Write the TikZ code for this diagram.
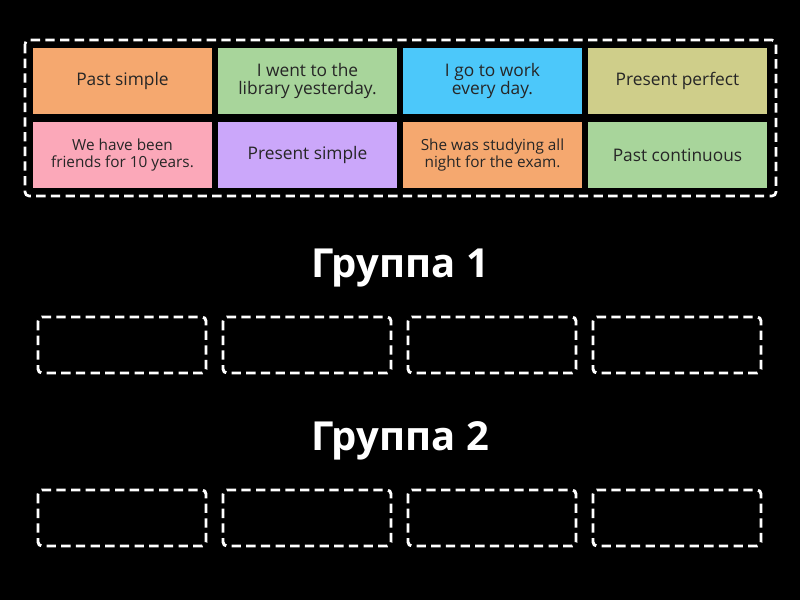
\documentclass[tikz,border=0pt]{standalone}
\usepackage{fontspec}
\setmainfont{Open Sans}
\begin{document}
\begin{tikzpicture}[x=0.75pt,y=-0.75pt,
 card/.style={draw=none,minimum width=134.25pt,minimum height=49.5pt,inner sep=1pt,align=center,font=\fontsize{13}{14}\selectfont,text=black!85},
 small/.style={font=\fontsize{11.5}{13}\selectfont},
 slot/.style={draw=white,line width=2.2pt,dash pattern=on 7pt off 4pt,rounded corners=3pt},
 head/.style={text=white,font=\fontsize{30}{34}\bfseries\selectfont}]
\definecolor{cor}{HTML}{F5A86F}
\definecolor{cgr}{HTML}{A8D59B}
\definecolor{ccy}{HTML}{4CC8FA}
\definecolor{ckh}{HTML}{CFCE8A}
\definecolor{cpk}{HTML}{FBA8B9}
\definecolor{clv}{HTML}{CBA7FA}
\fill[black] (0,0) rectangle (800,600);
\useasboundingbox (0,0) rectangle (800,600);
\draw[slot,line width=2pt] (25,40) rectangle (776,196);
\node[card,fill=cor] (a1) at (122.5,81) {Past simple};
\node[card,fill=cgr] (a2) at (307.5,81) {I went to the\\library yesterday.};
\node[card,fill=ccy] (a3) at (492.5,81) {I go to work\\every day.};
\node[card,fill=ckh] (a4) at (677.5,81) {Present perfect};
\node[card,fill=cpk,small] (b1) at (122.5,155) {We have been\\friends for 10 years.};
\node[card,fill=clv] (b2) at (307.5,155) {Present simple};
\node[card,fill=cor,small] (b3) at (492.5,155) {She was studying all\\night for the exam.};
\node[card,fill=cgr] (b4) at (677.5,155) {Past continuous};
\node[head] (g1) at (400,268) {Группа 1};
\node[head] (g2) at (400,441) {Группа 2};
\foreach \x/\n in {38/1,223/2,408/3,593/4}{
 \draw[slot] (\x,317) rectangle (\x+168,373);
 \draw[slot] (\x,490) rectangle (\x+168,546);
}
\end{tikzpicture}
\end{document}
